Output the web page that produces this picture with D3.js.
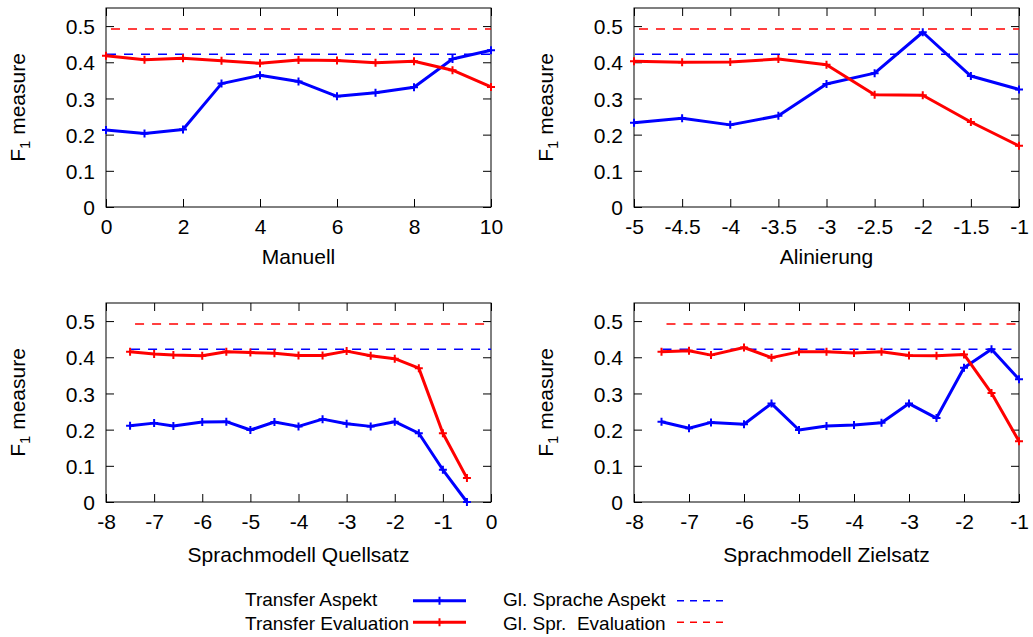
<!DOCTYPE html>
<html>
<head>
<meta charset="utf-8">
<script src="https://cdn.jsdelivr.net/npm/d3@7"></script>
<style>
  body { margin: 0; background: #fff; }
  svg text { font-family: "Liberation Sans", Arial, Helvetica, sans-serif; fill: #000; }
</style>
</head>
<body>
<svg id="chart" width="1033" height="637"></svg>
<script>
// values
var manuellX = [0, 1, 2, 3, 4, 5, 6, 7, 8, 9, 10];
var manuellAspekt = [0.213, 0.203, 0.214, 0.341, 0.364, 0.347, 0.306, 0.316, 0.331, 0.409, 0.433];
var manuellEval   = [0.418, 0.407, 0.411, 0.404, 0.397, 0.406, 0.405, 0.399, 0.403, 0.378, 0.332];

var alinX = [-5, -4.5, -4, -3.5, -3, -2.5, -2, -1.5, -1];
var alinAspekt = [0.233, 0.245, 0.227, 0.252, 0.340, 0.370, 0.483, 0.362, 0.325];
var alinEval   = [0.403, 0.400, 0.401, 0.409, 0.393, 0.310, 0.309, 0.235, 0.169];

var quellX = [-7.5, -7, -6.6, -6, -5.5, -5, -4.5, -4, -3.5, -3, -2.5, -2, -1.5, -1, -0.5];
var quellAspekt = [0.211, 0.218, 0.210, 0.221, 0.222, 0.199, 0.221, 0.209, 0.229, 0.216, 0.209, 0.222, 0.190, 0.089, 0.0];
var quellEval   = [0.415, 0.409, 0.406, 0.404, 0.415, 0.413, 0.411, 0.405, 0.405, 0.417, 0.404, 0.396, 0.370, 0.190, 0.066];

var zielX = [-7.5, -7, -6.6, -6, -5.5, -5, -4.5, -4, -3.5, -3, -2.5, -2, -1.5, -1];
var zielAspekt = [0.222, 0.204, 0.220, 0.215, 0.272, 0.199, 0.210, 0.213, 0.219, 0.272, 0.232, 0.371, 0.422, 0.339];
var zielEval   = [0.415, 0.418, 0.406, 0.427, 0.399, 0.415, 0.415, 0.412, 0.415, 0.405, 0.404, 0.408, 0.301, 0.168];

// baselines (gleiche Sprache)
var glAspekt = 0.422;
var glEval = 0.492;

var yTicks = [0, 0.1, 0.2, 0.3, 0.4, 0.5];
var yLabels = ["0", "0.1", "0.2", "0.3", "0.4", "0.5"];

var legendLabels = ["Transfer Aspekt", "Transfer Evaluation", "Gl. Sprache Aspekt", "Gl. Spr.  Evaluation"];

var blue = "#0000ff", red = "#ff0000";

var panels = [
  {title: "Manuell", x: manuellX, a: manuellAspekt, e: manuellEval, dom: [0, 10], dashFrom: 0,
   ticks: [0, 2, 4, 6, 8, 10], left: 106, top: 8, xlabDy: 57},
  {title: "Alinierung", x: alinX, a: alinAspekt, e: alinEval, dom: [-5, -1], dashFrom: -5,
   ticks: [-5, -4.5, -4, -3.5, -3, -2.5, -2, -1.5, -1], left: 634, top: 8, xlabDy: 57},
  {title: "Sprachmodell Quellsatz", x: quellX, a: quellAspekt, e: quellEval, dom: [-8, 0], dashFrom: -7.5,
   ticks: [-8, -7, -6, -5, -4, -3, -2, -1, 0], left: 106, top: 303, xlabDy: 60},
  {title: "Sprachmodell Zielsatz", x: zielX, a: zielAspekt, e: zielEval, dom: [-8, -1], dashFrom: -7.5,
   ticks: [-8, -7, -6, -5, -4, -3, -2, -1], left: 634, top: 303, xlabDy: 60}
];

var W = 385, H = 199, tickLen = 8;
var svg = d3.select("#chart");

function plus(sel) {
  sel.attr("d", "M-4,0H4M0,-4V4");
}

panels.forEach(function(p) {
  var g = svg.append("g").attr("transform", "translate(" + p.left + "," + p.top + ")");
  var x = d3.scaleLinear().domain(p.dom).range([0, W]);
  var y = d3.scaleLinear().domain([0, 0.55]).range([H, 0]);

  // tick marks on all four sides, pointing inward
  g.append("g").attr("transform", "translate(0," + H + ")")
    .call(d3.axisBottom(x).tickValues(p.ticks).tickSize(-tickLen).tickPadding(11)
      .tickFormat(function(d) { return String(d); }))
    .call(function(ax) {
      ax.select(".domain").remove();
      ax.selectAll("line").attr("stroke", "#000");
      ax.selectAll("text").attr("font-size", 21).attr("font-family", null).attr("dy", null)
        .attr("y", 26.5);
    });
  g.append("g")
    .call(d3.axisTop(x).tickValues(p.ticks).tickSize(-tickLen).tickFormat(""))
    .call(function(ax) { ax.select(".domain").remove(); ax.selectAll("line").attr("stroke", "#000"); });
  g.append("g")
    .call(d3.axisLeft(y).tickValues(yTicks).tickSize(-tickLen).tickPadding(11)
      .tickFormat(function(d, i) { return yLabels[i]; }))
    .call(function(ax) {
      ax.select(".domain").remove();
      ax.selectAll("line").attr("stroke", "#000");
      ax.selectAll("text").attr("font-size", 21).attr("font-family", null).attr("dy", "0.36em");
    });
  g.append("g").attr("transform", "translate(" + W + ",0)")
    .call(d3.axisRight(y).tickValues(yTicks).tickSize(-tickLen).tickFormat(""))
    .call(function(ax) { ax.select(".domain").remove(); ax.selectAll("line").attr("stroke", "#000"); });

  g.append("rect").attr("width", W).attr("height", H)
    .attr("fill", "none").attr("stroke", "#000").attr("stroke-width", 1);

  // dashed baselines
  [[glEval, red, 5], [glAspekt, blue, 1]].forEach(function(b) {
    g.append("line")
      .attr("x1", x(p.dashFrom) + b[2]).attr("x2", x(p.dom[1]))
      .attr("y1", y(b[0])).attr("y2", y(b[0]))
      .attr("stroke", b[1]).attr("stroke-width", 1.5).attr("stroke-dasharray", "9,8");
  });

  var line = d3.line().x(function(d) { return x(d[0]); }).y(function(d) { return y(d[1]); });

  [[p.a, blue], [p.e, red]].forEach(function(s) {
    var pts = p.x.map(function(v, i) { return [v, s[0][i]]; });
    g.append("path").datum(pts).attr("d", line)
      .attr("fill", "none").attr("stroke", s[1]).attr("stroke-width", 3).attr("stroke-linejoin", "round");
    g.selectAll(null).data(pts).enter().append("path")
      .attr("transform", function(d) { return "translate(" + x(d[0]) + "," + y(d[1]) + ")"; })
      .call(plus).attr("stroke", s[1]).attr("stroke-width", 2);
  });

  // axis titles
  g.append("text").attr("x", W / 2).attr("y", H + p.xlabDy)
    .attr("text-anchor", "middle").attr("font-size", 21).text(p.title);

  var yl = g.append("text").attr("transform", "translate(-81," + (H / 2) + ") rotate(-90)")
    .attr("text-anchor", "middle").attr("font-size", 21);
  yl.append("tspan").text("F");
  yl.append("tspan").attr("font-size", 15).attr("dy", 5).text("1");
  yl.append("tspan").attr("dy", -5).text(" measure");
});

// legend
var leg = svg.append("g");
var legRows = [
  {label: legendLabels[0], color: blue, dashed: false, tx: 245, lx: 413, ly: 600.7, ty: 606},
  {label: legendLabels[1], color: red, dashed: false, tx: 245, lx: 413, ly: 622.3, ty: 630},
  {label: legendLabels[2], color: blue, dashed: true, tx: 503, lx: 677, ly: 600.7, ty: 606},
  {label: legendLabels[3], color: red, dashed: true, tx: 503, lx: 677, ly: 622.3, ty: 630}
];
legRows.forEach(function(r) {
  leg.append("text").attr("x", r.tx).attr("y", r.ty).attr("font-size", 19)
    .attr("xml:space", "preserve").style("white-space", "pre").text(r.label);
  var len = r.dashed ? 46 : 53;
  leg.append("line").attr("x1", r.lx).attr("x2", r.lx + len).attr("y1", r.ly).attr("y2", r.ly)
    .attr("stroke", r.color).attr("stroke-width", r.dashed ? 1.5 : 3)
    .attr("stroke-dasharray", r.dashed ? "7,6" : null);
  if (!r.dashed) {
    leg.append("path").attr("transform", "translate(" + (r.lx + len / 2) + "," + r.ly + ")")
      .call(plus).attr("stroke", r.color).attr("stroke-width", 2);
  }
});
</script>
</body>
</html>
